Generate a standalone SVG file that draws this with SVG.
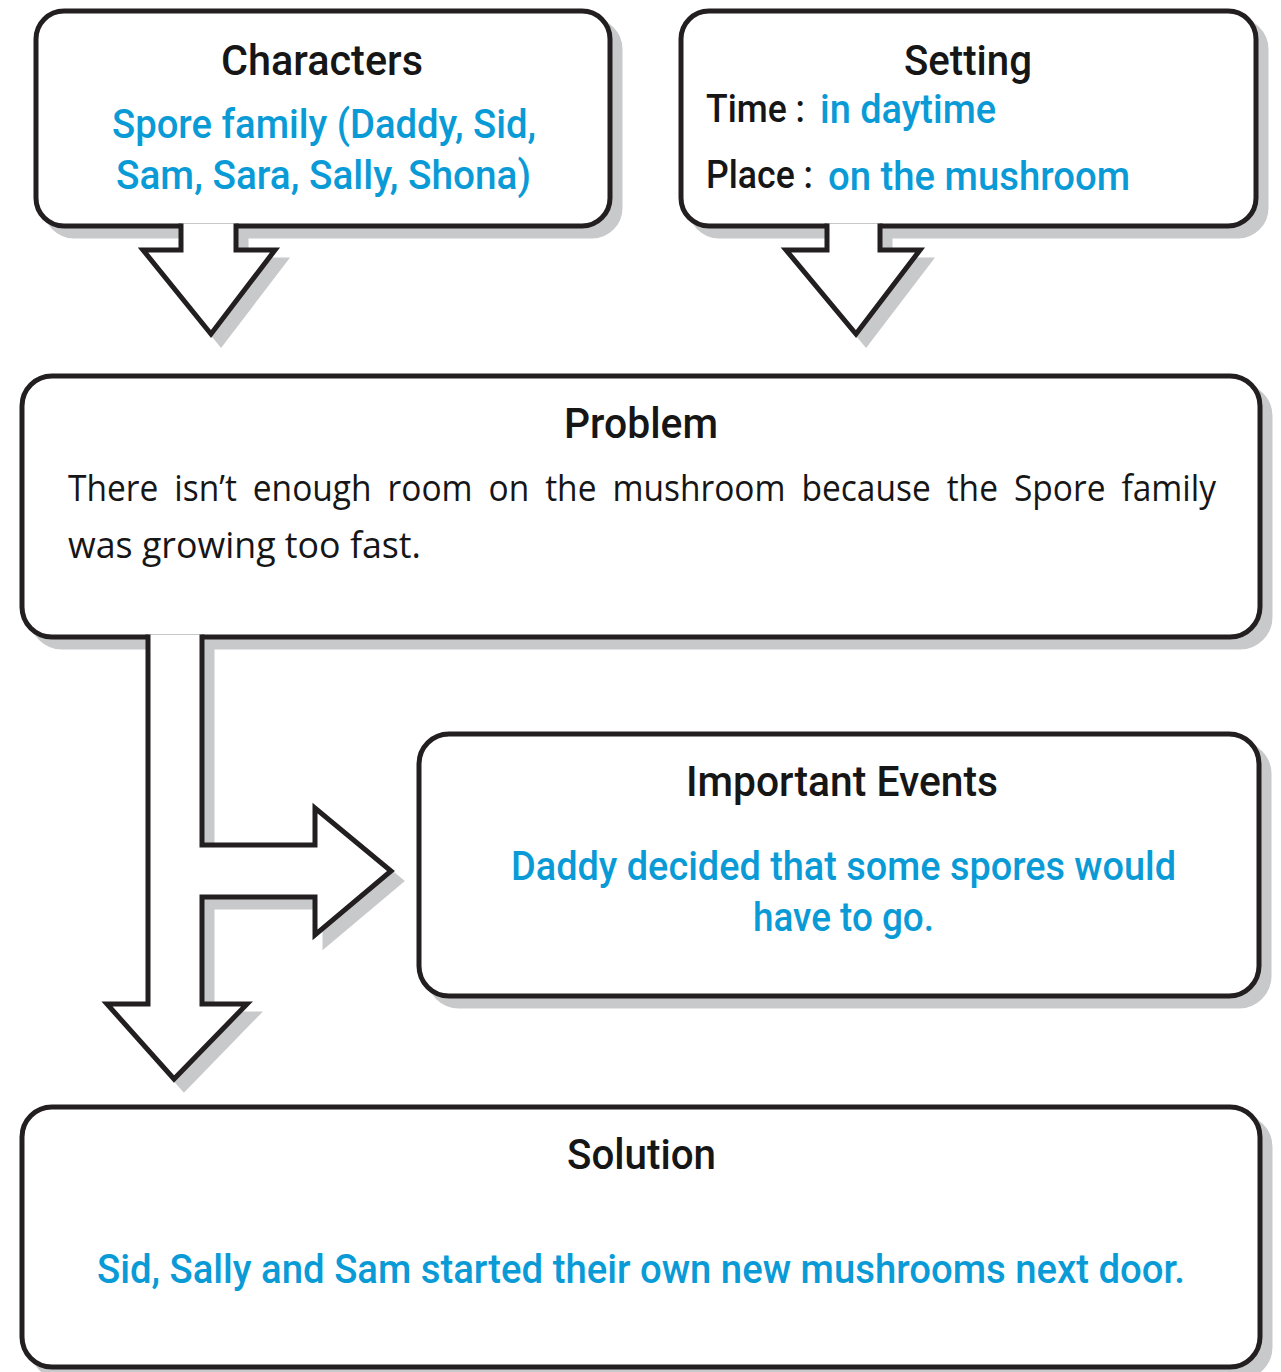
<svg xmlns="http://www.w3.org/2000/svg" xmlns:xlink="http://www.w3.org/1999/xlink" width="1281" height="1372" viewBox="0 0 1281 1372">
<style>
.shadow{fill:#c8c9cb;stroke:#c8c9cb;stroke-width:5}
.shape{fill:#ffffff;stroke:#231f20;stroke-width:5;stroke-linejoin:miter;stroke-miterlimit:10}
.conn{fill:#ffffff;stroke:#231f20;stroke-width:5;stroke-linejoin:miter;stroke-miterlimit:10;stroke-linecap:butt}
.head{font-family:Roboto,"Liberation Sans",sans-serif;font-weight:500;font-size:42px;fill:#161616}
.lbl{font-family:Roboto,"Liberation Sans",sans-serif;font-weight:500;font-size:38px;fill:#161616}
.blue{font-family:Roboto,"Liberation Sans",sans-serif;font-weight:500;font-size:40px;fill:#0a9bd7}
.body{font-family:"Open Sans","Noto Sans",sans-serif;font-weight:400;font-size:37px;fill:#161616}
</style>
<defs>
<path id="p-char" d="M64 11H582A28 28 0 0 1 610 39V198A28 28 0 0 1 582 226H64A28 28 0 0 1 36 198V39A28 28 0 0 1 64 11Z"/>
<path id="p-set" d="M709 11H1228A28 28 0 0 1 1256 39V198A28 28 0 0 1 1228 226H709A28 28 0 0 1 681 198V39A28 28 0 0 1 709 11Z"/>
<path id="p-prob" d="M52 376H1230A30 30 0 0 1 1260 406V607A30 30 0 0 1 1230 637H52A30 30 0 0 1 22 607V406A30 30 0 0 1 52 376Z"/>
<path id="p-ev" d="M449 734H1229A30 30 0 0 1 1259 764V966A30 30 0 0 1 1229 996H449A30 30 0 0 1 419 966V764A30 30 0 0 1 449 734Z"/>
<path id="p-sol" d="M52 1107H1230A30 30 0 0 1 1260 1137V1337A30 30 0 0 1 1230 1367H52A30 30 0 0 1 22 1337V1137A30 30 0 0 1 52 1107Z"/>
<path id="a-char" d="M236 223.5V250H275L211 334L143 250H181V223.5"/>
<path id="a-set" d="M880 223.5V250H920L856 334L786 250H827V223.5"/>
<path id="a-prob" d="M202 634.5V845H315V808L391 871L315 935V897H202V1004H247L174 1079L107 1004H148V634.5"/>
</defs>

<g id="shadows">
<use xlink:href="#p-char" class="shadow" transform="translate(10 10)"/>
<use xlink:href="#a-char" class="shadow" transform="translate(10 10)"/>
<use xlink:href="#p-set" class="shadow" transform="translate(10 10)"/>
<use xlink:href="#a-set" class="shadow" transform="translate(10 10)"/>
<use xlink:href="#p-prob" class="shadow" transform="translate(10 10)"/>
<use xlink:href="#a-prob" class="shadow" transform="translate(10 10)"/>
<use xlink:href="#p-ev" class="shadow" transform="translate(10 10)"/>
<use xlink:href="#p-sol" class="shadow" transform="translate(10 10)"/>
</g>

<g id="node-characters">
<use xlink:href="#p-char" class="shape"/>
<text class="head" x="221" y="75" textLength="202" lengthAdjust="spacingAndGlyphs">Characters</text>
<text class="blue" x="112" y="138" textLength="424" lengthAdjust="spacingAndGlyphs">Spore family (Daddy, Sid,</text>
<text class="blue" x="116" y="189" textLength="415" lengthAdjust="spacingAndGlyphs">Sam, Sara, Sally, Shona)</text>
</g>

<g id="node-setting">
<use xlink:href="#p-set" class="shape"/>
<text class="head" x="904" y="75" textLength="128" lengthAdjust="spacingAndGlyphs">Setting</text>
<text class="lbl" x="706" y="122" textLength="99" lengthAdjust="spacingAndGlyphs">Time :</text>
<text class="blue" x="820" y="123" textLength="176" lengthAdjust="spacingAndGlyphs">in daytime</text>
<text class="lbl" x="706" y="188" textLength="107" lengthAdjust="spacingAndGlyphs">Place :</text>
<text class="blue" x="828" y="190" textLength="302" lengthAdjust="spacingAndGlyphs">on the mushroom</text>
</g>

<g id="node-problem">
<use xlink:href="#p-prob" class="shape"/>
<text class="head" x="564" y="438" textLength="154" lengthAdjust="spacingAndGlyphs">Problem</text>
<text class="body" x="68" y="501" word-spacing="8" textLength="1148" lengthAdjust="spacingAndGlyphs">There isn’t enough room on the mushroom because the Spore family</text>
<text class="body" x="68" y="558" textLength="353" lengthAdjust="spacingAndGlyphs">was growing too fast.</text>
</g>

<g id="node-events">
<use xlink:href="#p-ev" class="shape"/>
<text class="head" x="686" y="796" textLength="312" lengthAdjust="spacingAndGlyphs">Important Events</text>
<text class="blue" x="511" y="880" textLength="665" lengthAdjust="spacingAndGlyphs">Daddy decided that some spores would</text>
<text class="blue" x="753" y="931" textLength="181" lengthAdjust="spacingAndGlyphs">have to go.</text>
</g>

<g id="node-solution">
<use xlink:href="#p-sol" class="shape"/>
<text class="head" x="567" y="1169" textLength="149" lengthAdjust="spacingAndGlyphs">Solution</text>
<text class="blue" x="97" y="1283" textLength="1088" lengthAdjust="spacingAndGlyphs">Sid, Sally and Sam started their own new mushrooms next door.</text>
</g>

<g id="connectors">
<use xlink:href="#a-char" class="conn"/>
<use xlink:href="#a-set" class="conn"/>
<use xlink:href="#a-prob" class="conn"/>
</g>
</svg>
